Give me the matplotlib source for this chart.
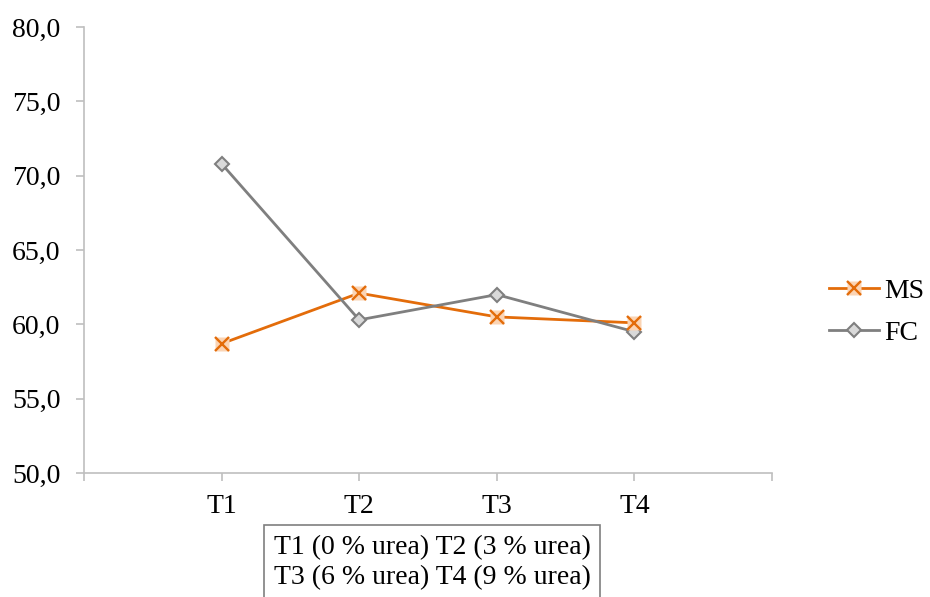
import matplotlib.pyplot as plt
from matplotlib.lines import Line2D
from matplotlib.patches import Rectangle

plt.rcParams['font.family'] = ['Liberation Serif', 'DejaVu Serif']

categories = ["T1", "T2", "T3", "T4"]
ms_values = [58.7, 62.1, 60.5, 60.1]
fc_values = [70.8, 60.3, 62.0, 59.5]
y_ticks = [50, 55, 60, 65, 70, 75, 80]
treatments = "T1 (0 % urea) T2 (3 % urea)\nT3 (6 % urea) T4 (9 % urea)"

ORANGE = "#E36C0A"
ORANGE_FILL = "#FBD4B4"
GREY = "#7F7F7F"
GREY_FILL = "#D9D9D9"
AXIS = "#BFBFBF"
FS = 20
W, H = 930, 597

fig = plt.figure(figsize=(W / 100, H / 100), dpi=100)
ax = fig.add_axes([84/W, 1-473/H, (772-84)/W, (473-27)/H])

x = list(range(1, len(categories) + 1))

# MS: orange line, x marker over a pale square
ax.plot(x, ms_values, color=ORANGE, lw=2.0, zorder=3)
ax.plot(x, ms_values, ls="none", marker="s", ms=10.5, mfc=ORANGE_FILL, mec="none", zorder=4)
ax.plot(x, ms_values, ls="none", marker="x", ms=10, mew=1.7, color=ORANGE, zorder=5)

# FC: grey line with diamonds
ax.plot(x, fc_values, color=GREY, lw=2.0, marker="D", ms=7.5, mfc=GREY_FILL, mec=GREY, mew=1.5, zorder=3)

ax.set_xlim(0, 5)
ax.set_ylim(50, 80)
ax.set_xticks(range(0, 6))
ax.set_xticklabels([""] + categories + [""])
ax.set_yticks(y_ticks)
ax.set_yticklabels([f"{v:.1f}".replace(".", ",") for v in y_ticks])

for s in ["top", "right"]:
    ax.spines[s].set_visible(False)
for s in ["left", "bottom"]:
    ax.spines[s].set_color(AXIS)
    ax.spines[s].set_linewidth(1.2)
ax.tick_params(axis="both", colors=AXIS, labelcolor="black", labelsize=FS, length=6, width=1.2)
ax.tick_params(axis="x", pad=9)
ax.tick_params(axis="y", pad=11)

ms_handle = (Line2D([], [], color=ORANGE, lw=2.0, marker="s", ms=10.5, mfc=ORANGE_FILL, mec="none"),
             Line2D([], [], ls="none", marker="x", ms=10, mew=1.7, color=ORANGE))
fc_handle = Line2D([], [], color=GREY, lw=2.0, marker="D", ms=7.5, mfc=GREY_FILL, mec=GREY, mew=1.5)
fig.legend([ms_handle, fc_handle], ["MS", "FC"], loc="center left",
           bbox_to_anchor=(829/W, 1-312/H), frameon=False, fontsize=FS,
           borderpad=0, borderaxespad=0,
           handlelength=1.8, handletextpad=0.2, labelspacing=0.6)

# treatment key box under the axis, running off the bottom edge
fig.add_artist(Rectangle((264/W, -0.05), (600-264)/W, 0.05 + 1-525/H,
                         transform=fig.transFigure, fc="white", ec=GREY, lw=1.2))
fig.text(432/W, 1-535/H, treatments, ha="center", va="top",
         fontsize=FS, linespacing=1.25)

fig.savefig("out.png", dpi=100)
